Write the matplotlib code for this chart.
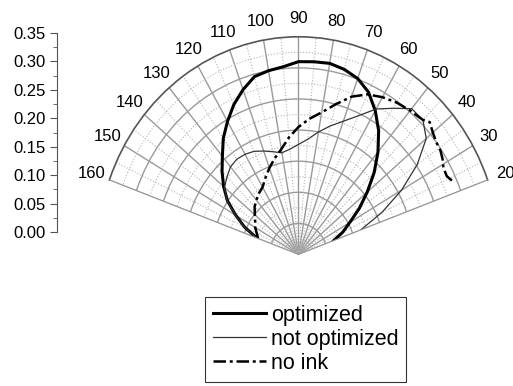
import numpy as np
import matplotlib
matplotlib.use("Agg")
import matplotlib.pyplot as plt

plt.rcParams['font.family'] = ['Liberation Sans', 'DejaVu Sans']

# angles in degrees, radii
angles = [20, 25, 30, 35, 40, 45, 50, 55, 60, 65, 70, 75, 80, 85, 90,
          95, 100, 105, 110, 115, 120, 125, 130, 135, 140, 145, 150, 155, 160]

optimized = [0.065, 0.085, 0.103, 0.129, 0.156, 0.186, 0.215, 0.243, 0.267, 0.288,
             0.301, 0.308, 0.312, 0.311, 0.310, 0.303, 0.300, 0.296, 0.282, 0.266,
             0.247, 0.228, 0.206, 0.188, 0.170, 0.151, 0.126, 0.103, 0.077]

not_optimized = [0.115, 0.160, 0.207, 0.252, 0.290, 0.306, 0.306, 0.287, 0.270, 0.246,
                 0.228, 0.214, 0.200, 0.186, 0.177, 0.170, 0.166, 0.171, 0.177, 0.183,
                 0.186, 0.187, 0.184, 0.176, 0.168, 0.152, 0.127, 0.104, 0.078]

no_ink_angles = [24, 26, 29, 31, 34, 37, 40, 43, 45, 47, 50, 55, 60, 65, 70, 75, 80,
                 85, 90, 95, 100, 105, 110, 115, 120, 125, 130, 135, 140, 145, 150,
                 155, 160]
no_ink = [0.292, 0.287, 0.288, 0.293, 0.298, 0.300, 0.305, 0.312, 0.306, 0.304,
          0.302, 0.298, 0.292, 0.284, 0.270, 0.250, 0.232, 0.219, 0.205, 0.189,
          0.172, 0.160, 0.148, 0.136, 0.125, 0.120, 0.114, 0.108, 0.099, 0.092,
          0.087, 0.080, 0.075]

theta_ticks = list(range(20, 161, 10))
r_ticks = [0.00, 0.05, 0.10, 0.15, 0.20, 0.25, 0.30, 0.35]

W, H = 513, 386
fig = plt.figure(figsize=(W / 100, H / 100), dpi=100)

# polar fan: centre (298.5, 254.5) px, 575 px/unit across, 622 px/unit up
cx, cy, sx, sy, rmax = 298.5, 254.5, 575, 622, 0.35
half_w = rmax * np.cos(np.deg2rad(20)) * sx
ax_w = 2 * half_w
ax_h = rmax * sy / (0.5 / 0.9397)
bottom_px = cy + (0.5 - 0.2802) / 0.9397 * ax_h
ax = fig.add_axes([(cx - half_w) / W, (H - bottom_px) / H, ax_w / W, ax_h / H],
                  projection='polar')
ax.set_thetamin(20)
ax.set_thetamax(160)
ax.set_ylim(0, rmax)
ax.set_aspect('auto')

ax.plot(np.deg2rad(angles), optimized, color='black', lw=2.2, label='optimized')
ax.plot(np.deg2rad(angles), not_optimized, color='#333333', lw=0.9,
        label='not optimized')
ax.plot(np.deg2rad(no_ink_angles), no_ink, color='black', lw=1.8,
        ls=(0, (5, 1.5, 1.2, 1.5)), label='no ink')

ax.set_xticks(np.deg2rad(theta_ticks))
ax.set_xticklabels([str(t) for t in theta_ticks], fontsize=12)
ax.set_xticks(np.deg2rad(np.arange(25, 160, 10)), minor=True)
ax.set_yticks([0.05, 0.10, 0.15, 0.20, 0.25, 0.30])
ax.set_yticklabels([])
ax.set_yticks(np.arange(0.025, 0.35, 0.05), minor=True)
ax.tick_params(axis='x', which='major', pad=3, colors='#444444', labelcolor='black')
ax.grid(True, which='major', color='#9a9a9a', lw=1.0, ls='-')
ax.grid(True, which='minor', color='#b5b5b5', lw=0.8, ls=':')
ax.spines['polar'].set_color('#555555')
ax.spines['polar'].set_linewidth(1.2)
ax.spines['start'].set_color('#9a9a9a')
ax.spines['end'].set_color('#9a9a9a')
ax.spines['inner'].set_visible(False)

# left value axis
top_px, zero_px, spine_x = 33, 232, 57
lax = fig.add_axes([spine_x / W, (H - zero_px) / H, 0.01, (zero_px - top_px) / H])
lax.set_ylim(0, 0.35)
lax.set_yticks(r_ticks)
lax.set_yticklabels([f"{v:.2f}" for v in r_ticks], fontsize=12)
lax.set_yticks(np.arange(0.025, 0.35, 0.05), minor=True)
lax.tick_params(axis='y', which='major', length=5, color='#555555', pad=3)
lax.tick_params(axis='y', which='minor', length=3, color='#555555')
lax.set_xticks([])
for side in ['top', 'right', 'bottom']:
    lax.spines[side].set_visible(False)
lax.spines['left'].set_color('#555555')
lax.patch.set_visible(False)

leg = fig.legend(loc='upper left', bbox_to_anchor=(205 / W, 1 - 297 / H),
                 fontsize=15.5, frameon=True, fancybox=False, edgecolor='black',
                 handlelength=2.5, handletextpad=0.2, labelspacing=0.15,
                 borderpad=0.35, borderaxespad=0)
leg.get_frame().set_linewidth(0.8)

fig.savefig("out.png", dpi=100)
